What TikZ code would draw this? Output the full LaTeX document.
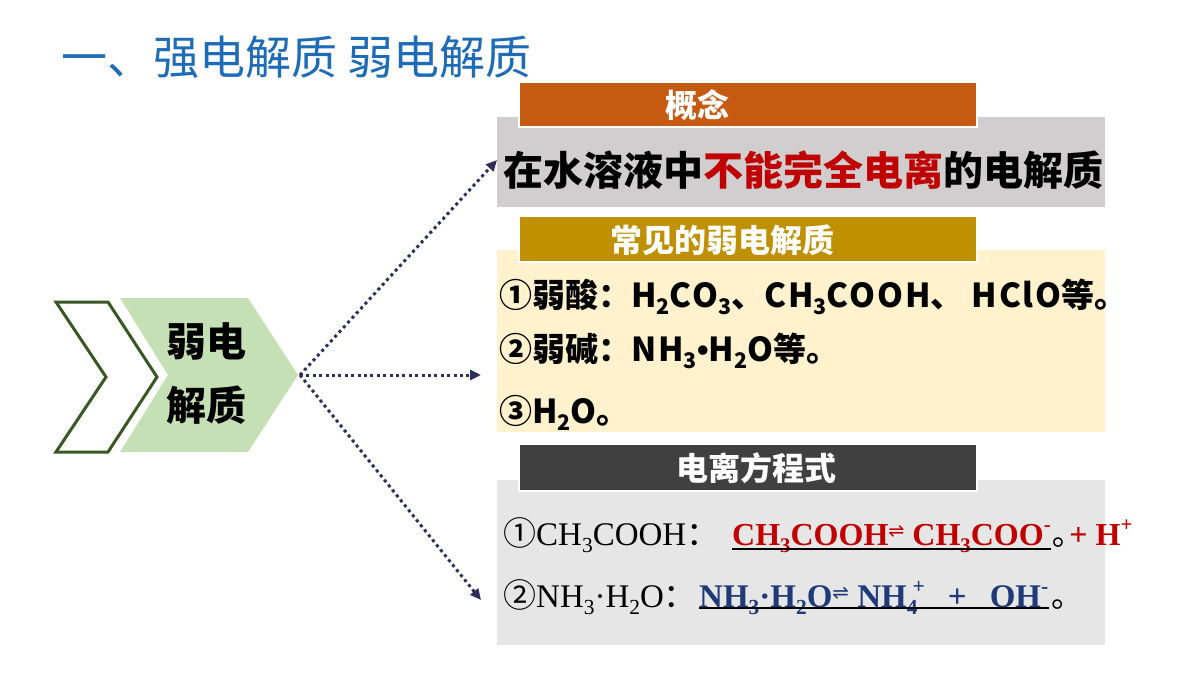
\documentclass[tikz,border=0pt]{standalone}
\usepackage{fontspec}
\setmainfont{Noto Sans CJK SC}
\newfontfamily\cjk{Noto Sans CJK SC}
\newfontfamily\latw{Noto Sans CJK SC}[LetterSpace=6]
\newfontfamily\tms{Liberation Serif}
\newfontfamily\dvs{DejaVu Sans}
\newfontfamily\lsans{Liberation Sans}
\usetikzlibrary{arrows.meta}
\definecolor{titleblue}{HTML}{1E6BB8}
\definecolor{hdrorange}{HTML}{C55A11}
\definecolor{hdrgold}{HTML}{BF9000}
\definecolor{hdrdark}{HTML}{404040}
\definecolor{boxgray}{HTML}{D0CECE}
\definecolor{boxyellow}{HTML}{FFF2CC}
\definecolor{boxlight}{HTML}{E7E6E6}
\definecolor{chevgreen}{HTML}{C5E0B4}
\definecolor{chevline}{HTML}{385723}
\definecolor{arrowcol}{HTML}{2E2E5A}
\definecolor{eqred}{HTML}{C00000}
\definecolor{eqblue}{HTML}{1F3A78}
\newcommand\sbs[1]{\raisebox{-0.22em}{\scalebox{0.65}{#1}}}
\newcommand\sps[1]{\raisebox{0.42em}{\scalebox{0.65}{#1}}}
\newcommand\eqa{\raisebox{0.22em}{\dvs\mdseries\scalebox{0.6}{⇌}}}
\tikzset{
  bigbox/.style={rectangle, minimum width=608pt, inner sep=0pt},
  hdrbox/.style={rectangle, minimum width=458pt, inner sep=0pt, draw=white, line width=1.5pt},
  hdrtext/.style={text=white, font=\bfseries\fontsize{32}{36}\selectfont, inner sep=0pt},
  itemtext/.style={anchor=west, inner sep=0pt, font=\bfseries\fontsize{33}{36}\selectfont},
  eqtext/.style={anchor=base west, inner sep=0pt, font=\fontsize{33}{36}\selectfont},
  eqcol/.style={anchor=base west, inner sep=0pt, font=\fontsize{32}{36}\selectfont},
  dotarrow/.style={arrowcol, line width=3pt, dash pattern=on 3pt off 3.4pt, -{Triangle[length=11pt,width=10pt,fill=arrowcol!80!blue]}},
}
\begin{document}
\begin{tikzpicture}[x=1pt,y=-1pt]
\useasboundingbox (0,0) rectangle (1200,675);
% title
\node[anchor=base west, inner sep=0pt, text=titleblue, font=\fontsize{46}{50}\selectfont] (title) at (61,74) {一、强电解质 弱电解质};
% chevrons
\draw[chevline, line width=3pt, line join=miter, fill=white] (56,302) -- (108,302) -- (157,377) -- (108,452) -- (56,452) -- (106,377) -- cycle;
\fill[chevgreen] (120,298) -- (248,298) -- (298,375) -- (248,452) -- (120,452) -- (168,375) -- cycle;
\coordinate (src) at (300,375);
\node[inner sep=0pt, font=\bfseries\fontsize{40}{44}\selectfont] (chev1) at (206,341) {弱电};
\node[inner sep=0pt, font=\bfseries\fontsize{40}{44}\selectfont] (chev2) at (206,405) {解质};
% boxes
\node[bigbox, fill=boxgray, minimum height=90pt] (box1) at (801,162) {};
\node[bigbox, fill=boxyellow, minimum height=182pt] (box2) at (801,341) {};
\node[bigbox, fill=boxlight, minimum height=165pt] (box3) at (801,562.5) {};
\node[hdrbox, fill=hdrorange, minimum height=45pt] (hdr1) at (748,104.5) {};
\node[hdrbox, fill=hdrgold, minimum height=46pt] (hdr2) at (748,239) {};
\node[hdrbox, fill=hdrdark, minimum height=47pt] (hdr3) at (748,467.5) {};
\node[hdrtext] (hdr1t) at (697,105) {概念};
\node[hdrtext] (hdr2t) at (722,240) {常见的弱电解质};
\node[hdrtext] (hdr3t) at (756,468) {电离方程式};
% concept
\node[inner sep=0pt, font=\bfseries\fontsize{40}{44}\selectfont] (concept) at (803,170) {在水溶液中\textcolor{eqred}{不能完全电离}的电解质};
% items
\node[itemtext] (item1) at (499,297) {①弱酸：{\latw H\sbs{2}CO\sbs{3}}、{\latw CH\sbs{3}COOH}、 {\latw HClO}等。};
\node[itemtext] (item2) at (499,351) {②弱碱：{\latw NH\sbs{3}{\lsans\bfseries •}H\sbs{2}O}等。};
\node[itemtext] (item3) at (499,413) {③{\latw H\sbs{2}O}。};
% equations
\node[eqtext] (e1a) at (503,545) {{\cjk ①}{\tms CH\sbs{3}COOH}{\cjk ：}};
\node[eqcol, text=eqred] (e1b) at (732,545) {\tms\bfseries CH\sbs{3}COOH\eqa\ CH\sbs{3}COO\sps{-}};
\node[eqcol] (e1c) at ([xshift=1pt]e1b.base east) {{\cjk ｡}};
\node[eqcol, text=eqred] (e1d) at ([xshift=1pt]e1c.base east) {\tms\bfseries + H\sps{+}};
\draw[line width=2pt] ([yshift=-4pt]e1b.base west) -- ([yshift=-4pt]e1b.base east);
\node[eqtext] (e2a) at (503,607) {{\cjk ②}{\tms NH\sbs{3}·H\sbs{2}O}{\cjk ：}};
\node[eqcol, text=eqblue, font=\fontsize{33}{36}\selectfont] (e2b) at (699,607) {\tms\bfseries NH\sbs{3}·H\sbs{2}O\eqa\ NH\sbs{4}\hspace{-0.15em}\sps{+}\hspace{0.7em}+\hspace{0.7em}OH\sps{-}\hspace{0.1em}};
\node[eqcol] (e2c) at ([xshift=3pt]e2b.base east) {\cjk 。};
\draw[line width=2pt] ([yshift=-1pt]e2b.base west) -- ([yshift=-1pt]e2b.base east);
% arrows
\coordinate (t1) at (497,160);
\coordinate (t2) at (481,375);
\coordinate (t3) at (481,600);
\draw[dotarrow] (src) -- (t1);
\draw[dotarrow] (src) -- (t2);
\draw[dotarrow] (src) -- (t3);
\end{tikzpicture}
\end{document}
